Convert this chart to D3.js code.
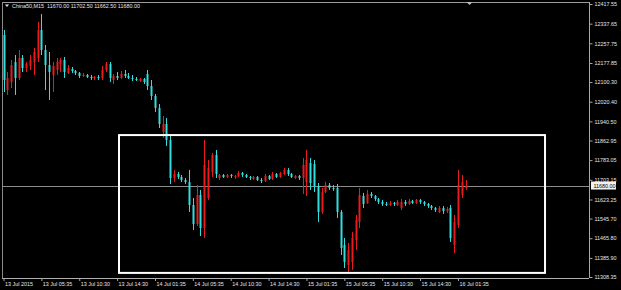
<!DOCTYPE html>
<html>
<head>
<meta charset="utf-8">
<script src="https://cdn.jsdelivr.net/npm/d3@7"></script>
<style>
  body { margin: 0; background: #000; }
  svg { display: block; }
</style>
</head>
<body>
<svg id="chart" width="621" height="290"></svg>
<script>
// China50 M15 bars
const opens = [12291.6,12068.2,12100.7,12181.9,12116.9,12198.2,12157.6,12165.7,12181.9,12198.2,
  12311.9,12230.7,12169.7,12129.1,12149.4,12173.8,12190.1,12137.2,12153.5,12145.4,
  12137.2,12125.1,12129.1,12121.0,12116.9,12121.0,12116.9,12149.4,12173.8,12108.8,
  12125.1,12116.9,12133.2,12125.1,12116.9,12112.9,12104.7,12112.9,12133.2,12084.4,
  12043.8,11995.1,11897.5,11930.0,11865.0,11710.7,11726.9,11714.7,11702.5,11694.4,
  11601.0,11523.8,11641.6,11507.5,11629.4,11735.1,11804.1,11710.7,11722.9,11714.7,
  11722.9,11714.7,11718.8,11731.0,11722.9,11714.7,11706.6,11714.7,11702.5,11698.5,
  11718.8,11706.6,11726.9,11714.7,11726.9,11743.2,11726.9,11710.7,11718.8,11710.7,
  11694.4,11771.6,11767.6,11678.2,11572.6,11653.8,11682.2,11670.1,11670.1,11572.6,
  11438.4,11357.2,11369.4,11458.8,11531.9,11637.6,11609.1,11645.7,11637.6,11625.4,
  11613.2,11605.1,11601.0,11609.1,11601.0,11588.8,11613.2,11605.1,11617.3,11609.1,
  11621.3,11613.2,11605.1,11596.9,11588.8,11572.6,11588.8,11576.6,11588.8,11438.4,
  11519.7,11641.6,11670.0];
const highs = [12311.9,12141.3,12190.1,12210.4,12230.7,12210.4,12181.9,12210.4,12238.8,12344.4,
  12376.9,12251.0,12222.5,12181.9,12198.2,12198.2,12202.2,12169.7,12161.6,12149.4,
  12141.3,12137.2,12133.2,12129.1,12125.1,12129.1,12165.7,12181.9,12181.9,12133.2,
  12141.3,12145.4,12149.4,12137.2,12129.1,12121.0,12116.9,12116.9,12149.4,12108.8,
  12051.9,12011.3,11962.6,11954.4,11881.3,11743.2,11735.1,11722.9,11710.7,11743.2,
  11629.4,11682.2,11661.9,11865.0,11783.8,11812.2,11824.4,11726.9,11726.9,11726.9,
  11726.9,11722.9,11739.1,11735.1,11726.9,11718.8,11718.8,11718.8,11710.7,11726.9,
  11722.9,11735.1,11731.0,11735.1,11751.3,11751.3,11731.0,11722.9,11722.9,11791.9,
  11824.4,11791.9,11783.8,11690.3,11670.1,11694.4,11690.3,11682.2,11686.3,11580.7,
  11466.9,11446.6,11491.3,11560.4,11670.1,11649.8,11661.9,11653.8,11641.6,11629.4,
  11621.3,11613.2,11617.3,11613.2,11621.3,11625.4,11621.3,11625.4,11621.3,11625.4,
  11625.4,11617.3,11609.1,11601.0,11592.9,11596.9,11596.9,11592.9,11601.0,11560.4,
  11743.2,11722.9,11702.5];
const lows = [12060.0,12047.9,12076.3,12047.9,12108.8,12141.3,12141.3,12149.4,12129.1,12181.9,
  12210.4,12068.2,12027.6,12060.0,12129.1,12141.3,12116.9,12133.2,12137.2,12129.1,
  12116.9,12121.0,12116.9,12108.8,12108.8,12108.8,12108.8,12141.3,12100.7,12092.6,
  12108.8,12112.9,12116.9,12112.9,12104.7,12104.7,12100.7,12092.6,12068.2,12027.6,
  11978.8,11913.8,11873.2,11840.7,11686.3,11694.4,11706.6,11694.4,11686.3,11572.6,
  11499.4,11515.7,11475.0,11466.9,11621.3,11714.7,11710.7,11702.5,11710.7,11710.7,
  11710.7,11706.6,11714.7,11714.7,11710.7,11702.5,11702.5,11698.5,11690.3,11694.4,
  11702.5,11702.5,11710.7,11710.7,11722.9,11718.8,11710.7,11706.6,11702.5,11645.7,
  11637.6,11661.9,11653.8,11531.9,11564.4,11649.8,11661.9,11657.9,11548.2,11397.8,
  11345.0,11328.8,11336.9,11418.1,11507.5,11588.8,11605.1,11629.4,11617.3,11605.1,
  11596.9,11596.9,11596.9,11596.9,11596.9,11580.7,11596.9,11601.0,11605.1,11605.1,
  11605.1,11596.9,11588.8,11580.7,11572.6,11568.5,11564.4,11568.5,11450.6,11405.9,
  11507.5,11629.4,11662.5];
const closes = [12108.8,12116.9,12169.7,12116.9,12198.2,12157.6,12173.8,12190.1,12222.5,12311.9,
  12230.7,12169.7,12141.3,12165.7,12181.9,12190.1,12141.3,12157.6,12145.4,12137.2,
  12125.1,12129.1,12121.0,12116.9,12121.0,12116.9,12149.4,12173.8,12116.9,12125.1,
  12116.9,12133.2,12125.1,12116.9,12112.9,12108.8,12112.9,12100.7,12084.4,12043.8,
  11995.1,11930.0,11930.0,11865.0,11710.7,11726.9,11714.7,11702.5,11694.4,11601.0,
  11523.8,11641.6,11507.5,11763.5,11751.3,11804.1,11726.9,11722.9,11714.7,11722.9,
  11718.8,11718.8,11731.0,11722.9,11714.7,11710.7,11714.7,11702.5,11698.5,11718.8,
  11706.6,11726.9,11714.7,11731.0,11743.2,11726.9,11714.7,11718.8,11710.7,11763.5,
  11783.8,11690.3,11678.2,11572.6,11653.8,11682.2,11670.1,11666.0,11572.6,11426.3,
  11369.4,11418.1,11466.9,11540.0,11641.6,11605.1,11645.7,11637.6,11625.4,11613.2,
  11605.1,11601.0,11609.1,11605.1,11613.2,11613.2,11605.1,11617.3,11609.1,11621.3,
  11613.2,11605.1,11596.9,11588.8,11580.7,11588.8,11576.6,11584.8,11466.9,11531.9,
  11682.2,11694.4,11680.0];

const timeLabels = ["13 Jul 2015","13 Jul 05:35","13 Jul 10:30","13 Jul 14:30","14 Jul 01:35",
  "14 Jul 05:35","14 Jul 10:30","14 Jul 14:30","15 Jul 01:35","15 Jul 05:35",
  "15 Jul 10:30","15 Jul 14:30","16 Jul 01:35"];
const timeLabelBars = [0,10,20,30,40,50,60,70,80,90,100,110,120];
const priceTicks = [12417.55,12337.65,12257.75,12177.85,12100.30,12020.40,11940.50,11862.95,
  11783.05,11703.15,11623.25,11545.70,11465.80,11385.90,11308.35];
const symbolName = "China50,M15";
const lastPrice = 11680.00;
// drawn rectangle object: bar positions and price levels
const boxBars = [30.5, 143];
const boxPrices = [11325, 11885];

const bullColor = "#e81c1c";
const bearColor = "#33dede";
const textColor = "#e6e6e6";
const font = "Liberation Sans, Arial, sans-serif";

const W = 621, H = 290;
const plotRight = 589, plotBottom = 278;

const svg = d3.select("#chart");
svg.append("rect").attr("width", W).attr("height", H).attr("fill", "#000");

const bars = opens.map((o, i) => ({i, o, h: highs[i], l: lows[i], c: closes[i]}));

const x = d3.scaleLinear().domain([0, bars.length - 1]).range([3.5, 465.5]);
const y = d3.scaleLinear().domain([priceTicks[priceTicks.length - 1], priceTicks[0]]).range([277, 4]);

// frame
svg.append("line").attr("x1", 2).attr("x2", plotRight).attr("y1", 2.5).attr("y2", 2.5)
  .attr("stroke", "#9a9a9a").attr("stroke-width", 1);
svg.append("line").attr("x1", 2.5).attr("x2", 2.5).attr("y1", 2).attr("y2", plotBottom)
  .attr("stroke", "#8a8a8a").attr("stroke-width", 1);

// current price line
svg.append("line")
  .attr("x1", 3).attr("x2", plotRight)
  .attr("y1", Math.round(y(lastPrice)) + 0.5).attr("y2", Math.round(y(lastPrice)) + 0.5)
  .attr("stroke", "#8c8c8c").attr("stroke-width", 1);

// candles
const g = svg.append("g").attr("class", "candles");
const candle = g.selectAll("g.bar").data(bars).enter().append("g").attr("class", "bar");

candle.append("line")
  .attr("x1", d => Math.round(x(d.i)) + 0.5)
  .attr("x2", d => Math.round(x(d.i)) + 0.5)
  .attr("y1", d => y(d.h))
  .attr("y2", d => y(d.l))
  .attr("stroke", d => d.c >= d.o ? bullColor : bearColor)
  .attr("stroke-width", 1);

candle.append("rect")
  .attr("x", d => Math.round(x(d.i)) - 0.5)
  .attr("width", 2)
  .attr("y", d => y(Math.max(d.o, d.c)))
  .attr("height", d => Math.max(1, y(Math.min(d.o, d.c)) - y(Math.max(d.o, d.c))))
  .attr("fill", d => d.c >= d.o ? bullColor : bearColor);

// rectangle object
svg.append("rect")
  .attr("x", x(boxBars[0]))
  .attr("y", y(boxPrices[1]))
  .attr("width", x(boxBars[1]) - x(boxBars[0]))
  .attr("height", y(boxPrices[0]) - y(boxPrices[1]))
  .attr("fill", "none")
  .attr("stroke", "#ffffff")
  .attr("stroke-width", 2);

// chart shift marker, just past the last bar
const shiftX = x(bars.length - 1) + 4;
svg.append("path")
  .attr("d", `M${shiftX - 3},2 L${shiftX + 3},2 L${shiftX},5 Z`)
  .attr("fill", "#bdbdbd");

// price axis
const yAxis = svg.append("g")
  .attr("transform", `translate(${plotRight + 0.5},0)`)
  .call(d3.axisRight(y).tickValues(priceTicks).tickFormat(d3.format(".2f")).tickSize(3).tickPadding(2));
yAxis.select(".domain").attr("stroke", "#a8a8a8").attr("d", `M0,2V${plotBottom}`);
yAxis.selectAll(".tick line").attr("stroke", "#a8a8a8");
yAxis.selectAll(".tick text").attr("fill", textColor).attr("font-size", 5.4).attr("font-family", font);

// last price box
const lp = svg.append("g").attr("transform", `translate(${plotRight + 1},${y(lastPrice)})`);
lp.append("rect").attr("x", 1).attr("y", -4).attr("width", 25).attr("height", 8).attr("fill", "#f2f2f2");
lp.append("text").attr("x", 3.5).attr("y", 2).attr("font-size", 5.4).attr("font-family", font)
  .attr("fill", "#000").text(d3.format(".2f")(lastPrice));

// time axis
const xAxis = svg.append("g")
  .attr("transform", `translate(0,${plotBottom})`)
  .call(d3.axisBottom(x).tickValues(timeLabelBars).tickFormat((d, k) => timeLabels[k]).tickSize(3));
xAxis.select(".domain").attr("stroke", "#b0b0b0").attr("d", `M2,0.5H${plotRight}`);
xAxis.selectAll(".tick line").attr("stroke", "#a8a8a8");
xAxis.selectAll(".tick text")
  .attr("fill", textColor).attr("font-size", 5.4).attr("font-family", font)
  .attr("text-anchor", "start").attr("x", 1).attr("y", 4.5);

// header
svg.append("path").attr("d", "M5,4.5 L9,4.5 L7,7 Z").attr("fill", "#e6e6e6");
svg.append("text").attr("x", 12).attr("y", 8).attr("font-size", 5.4).attr("font-family", font)
  .attr("fill", textColor).attr("xml:space", "preserve")
  .text(`${symbolName}  ${[opens, highs, lows, closes].map(a => d3.format(".2f")(a[a.length - 1])).join(" ")}`);
</script>
</body>
</html>
